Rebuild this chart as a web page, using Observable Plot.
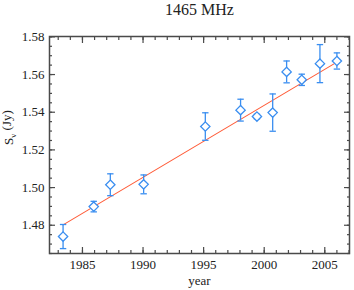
<!DOCTYPE html>
<html><head><meta charset="utf-8">
<script src="https://cdn.jsdelivr.net/npm/d3@7"></script>
<script src="https://cdn.jsdelivr.net/npm/@observablehq/plot@0.6"></script>
<style>body{margin:0;background:#fff}</style>
</head><body><div id="chart"></div>
<script>
const title = "1465 MHz";
const xLabel = "year";
const years  = [1983.4, 1985.93, 1987.3, 1990.05, 1995.14, 1998.05, 1999.4, 2000.7, 2001.85, 2003.1, 2004.6, 2006.0];
const fluxes = [1.474, 1.4899, 1.5015, 1.5017, 1.5324, 1.5411, 1.5377, 1.5398, 1.5614, 1.5572, 1.5658, 1.5672];
const errors = [0.0064, 0.0028, 0.0058, 0.005, 0.0073, 0.0058, 0.0012, 0.0099, 0.0058, 0.003, 0.0101, 0.0043];
const fitYears = [1983.4, 2006.0];
const fitFlux  = [1.4802, 1.5666];
const xMajor = [1985, 1990, 1995, 2000, 2005];
const xMinor = d3.range(1983, 2008, 1);
const yMajor = [1.48, 1.50, 1.52, 1.54, 1.56, 1.58];
const yMinor = d3.range(0, 24).map(i => +(1.465 + i * 0.005).toFixed(3));

const pts = years.map((x, i) => ({x, y: fluxes[i], lo: fluxes[i] - errors[i], hi: fluxes[i] + errors[i]}));
const fit = fitYears.map((x, i) => ({x, y: fitFlux[i]}));

const blue = "#3a8ef0", red = "#ff5a36", axisC = "#4a4a4a";
const cap = {draw(ctx, size) { const w = 3.2; ctx.moveTo(-w, 0); ctx.lineTo(w, 0); }};
const font = "'Liberation Serif', 'Times New Roman', serif";
const none = () => "";

const chart = Plot.plot({
  width: 354, height: 290,
  marginTop: 36, marginLeft: 49, marginRight: 5, marginBottom: 37,
  style: {fontFamily: font, fontSize: "13px", color: "#222", background: "#fff"},
  x: {domain: [1982.28, 2007.04]},
  y: {domain: [1.465, 1.5802]},
  marks: [
    Plot.axisX({anchor: "bottom", ticks: xMinor, tickSize: -3, tickFormat: none, stroke: axisC, strokeWidth: 1.2, label: null}),
    Plot.axisX({anchor: "top", ticks: xMinor, tickSize: -3, tickFormat: none, stroke: axisC, strokeWidth: 1.2, label: null}),
    Plot.axisX({anchor: "bottom", ticks: xMajor, tickSize: -6, tickFormat: d => String(d), tickPadding: 12, stroke: axisC, strokeWidth: 1.2, label: null, fill: "#222", fontSize: 13}),
    Plot.axisX({anchor: "top", ticks: xMajor, tickSize: -6, tickFormat: none, stroke: axisC, strokeWidth: 1.2, label: null}),
    Plot.axisY({anchor: "left", ticks: yMinor, tickSize: -3, tickFormat: none, stroke: axisC, strokeWidth: 1.2, label: null}),
    Plot.axisY({anchor: "right", ticks: yMinor, tickSize: -3, tickFormat: none, stroke: axisC, strokeWidth: 1.2, label: null}),
    Plot.axisY({anchor: "left", ticks: yMajor, tickSize: -6, tickFormat: d => d.toFixed(2), tickPadding: 11, stroke: axisC, strokeWidth: 1.2, label: null, fill: "#222", fontSize: 13}),
    Plot.axisY({anchor: "right", ticks: yMajor, tickSize: -6, tickFormat: none, stroke: axisC, strokeWidth: 1.2, label: null}),
    Plot.frame({stroke: axisC, strokeWidth: 1.5}),
    Plot.line(fit, {x: "x", y: "y", stroke: red, strokeWidth: 1.1}),
    Plot.ruleX(pts, {x: "x", y1: "lo", y2: "hi", stroke: blue, strokeWidth: 1.3}),
    Plot.dot(pts, {x: "x", y: "lo", symbol: cap, r: 3, stroke: blue, strokeWidth: 1.3}),
    Plot.dot(pts, {x: "x", y: "hi", symbol: cap, r: 3, stroke: blue, strokeWidth: 1.3}),
    Plot.dot(pts, {x: "x", y: "y", symbol: "diamond2", r: 4.2, stroke: blue, strokeWidth: 1.3, fill: "white"}),
    Plot.text([title], {frameAnchor: "top", dy: -22, text: d => d, fontSize: 16, lineAnchor: "bottom", fill: "#222"}),
    Plot.text([xLabel], {frameAnchor: "bottom", dy: 31, text: d => d, fontSize: 13, lineAnchor: "bottom", fill: "#222"}),
    Plot.text(["Sv (Jy)"], {frameAnchor: "left", dx: -41, rotate: -90, text: d => d, fontSize: 13, fill: "#222", className: "ylab"})
  ]
});
document.getElementById("chart").append(chart);
d3.select(chart).selectAll("g, text").attr("font-family", font).attr("font-variant", null).style("font-family", font).style("font-variant", "normal");
d3.select(chart).selectAll(".ylab text").each(function() {
  const t = d3.select(this);
  t.text(null);
  t.append("tspan").text("S");
  t.append("tspan").attr("font-size", 9).attr("dy", "0.35em").text("ν");
  t.append("tspan").attr("dy", "-0.35em").text(" (Jy)");
});
</script></body></html>
